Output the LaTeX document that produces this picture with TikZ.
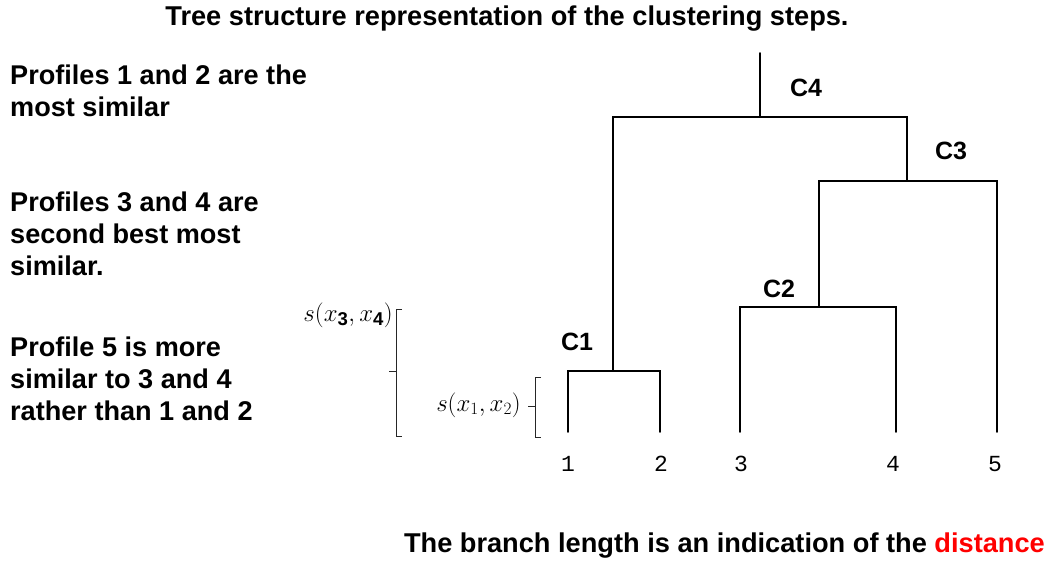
\documentclass[tikz,border=0pt]{standalone}
\usepackage{fontspec}
\setmainfont{Liberation Sans}
\newfontfamily\monofont{Liberation Mono}
\definecolor{distred}{RGB}{255,0,0}
\begin{document}
\begin{tikzpicture}[x=1pt,y=-1pt,
  branch/.style={line width=1.7pt,line cap=round,line join=miter},
  bracepath/.style={line width=0.8pt,black!85},
  bigtxt/.style={inner sep=0pt,anchor=base west,font=\fontsize{27.1}{32}\selectfont\bfseries},
  titletxt/.style={inner sep=0pt,anchor=base,font=\fontsize{27.2}{30}\selectfont\bfseries},
  clabel/.style={inner sep=0pt,font=\fontsize{25}{30}\selectfont\bfseries},
  leaf/.style={inner sep=0pt,font=\fontsize{23}{28}\selectfont\monofont},
  mathlbl/.style={inner sep=0pt,font=\fontsize{26.5}{30}\selectfont}]
\useasboundingbox (0,0) rectangle (1053,560);
% title
\node[titletxt] (title) at (507,25) {Tree structure representation of the clustering steps.};
% left texts
\node[bigtxt] (p1a) at (10,84) {Profiles 1 and 2 are the};
\node[bigtxt] (p1b) at (10,116) {most similar};
\node[bigtxt] (p2a) at (10,211) {Profiles 3 and 4 are};
\node[bigtxt] (p2b) at (10,243) {second best most};
\node[bigtxt] (p2c) at (10,275) {similar.};
\node[bigtxt] (p3a) at (10,356) {Profile 5 is more};
\node[bigtxt] (p3b) at (10,388) {similar to 3 and 4};
\node[bigtxt] (p3c) at (10,420) {rather than 1 and 2};
% bottom text
\node[inner sep=0pt,anchor=base east,font=\fontsize{27.2}{32}\selectfont\bfseries] (bottom) at (1045,552) {The branch length is an indication of the \textcolor{distred}{distance}};
% dendrogram coordinates
\coordinate (l1) at (568,432);
\coordinate (l2) at (660,432);
\coordinate (l3) at (740,432);
\coordinate (l4) at (896,432);
\coordinate (l5) at (997,432);
\coordinate (c1) at (613,371);
\coordinate (c2) at (819,307);
\coordinate (c3) at (907,181);
\coordinate (c4) at (760,117);
\coordinate (top) at (760,53);
\draw[branch] (l1) |- (c1) -| (l2);
\draw[branch] (l3) |- (c2) -| (l4);
\draw[branch] (c2) |- (c3) -| (l5);
\draw[branch] (c1) |- (c4) -| (c3);
\draw[branch] (c4) -- (top);
% cluster labels
\node[clabel] (C4) at (806,88) {C4};
\node[clabel] (C3) at (951,151) {C3};
\node[clabel] (C2) at (779,289) {C2};
\node[clabel] (C1) at (577,342) {C1};
% leaf labels
\node[leaf] (n1) at (568,464) {1};
\node[leaf] (n2) at (661,464) {2};
\node[leaf] (n3) at (741,464) {3};
\node[leaf] (n4) at (893,464) {4};
\node[leaf] (n5) at (995,464) {5};
% braces
\draw[bracepath] (402,309) -- (396,309) -- (396,436) -- (402,436);
\draw[bracepath] (396,371) -- (389,371);
\draw[bracepath] (541,377) -- (535,377) -- (535,437) -- (541,437);
\draw[bracepath] (535,406) -- (528,406);
% similarity labels
\node[mathlbl,anchor=east] (s34) at (393,315) {$s(x_{\mathbf{3}},x_{\mathbf{4}})$};
\node[mathlbl,anchor=east] (s12) at (521,405) {$s(x_{1},x_{2})$};
\end{tikzpicture}
\end{document}
